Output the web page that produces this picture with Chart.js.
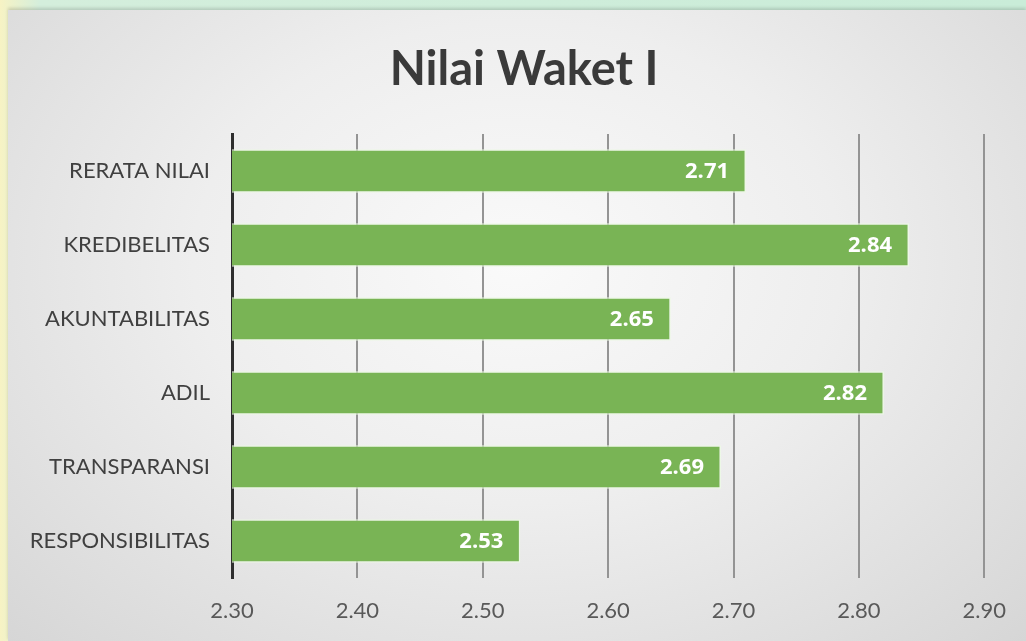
<!DOCTYPE html>
<html>
<head>
<meta charset="utf-8">
<script src="https://cdn.jsdelivr.net/npm/chart.js@4/dist/chart.umd.min.js"></script>
<style>
    html, body { margin: 0; padding: 0; }
    body {
        width: 1026px; height: 641px; overflow: hidden; position: relative;
        background: linear-gradient(90deg, #f7f3c4 0px, #d4eedc 40px, #c9ecd8 100%);
    }
    #panel {
        position: absolute; left: 8px; top: 10px; right: 0; bottom: 0;
        background: radial-gradient(ellipse at 50% 40%, #fafafa 0%, #eeeeee 45%, #d6d6d6 100%);
        box-shadow: 0 -2px 3px rgba(0,0,0,0.15);
    }
    #wrap { position: absolute; left: 0; top: 0; width: 1026px; height: 641px; }
</style>
</head>
<body>
<div id="panel"></div>
<div id="wrap"><canvas id="nilaiChart"></canvas></div>
<script>
const categories = ['RERATA NILAI', 'KREDIBELITAS', 'AKUNTABILITAS', 'ADIL', 'TRANSPARANSI', 'RESPONSIBILITAS'];
const scores = [2.71, 2.84, 2.65, 2.82, 2.69, 2.53];
const axisMin = 2.30;
const axisMax = 2.90;
const axisStep = 0.10;
const chartTitle = 'Nilai Waket I';

// heading centred over the panel, above the plot
const panelTitle = {
    id: 'panelTitle',
    afterDraw(chart) {
        const ctx = chart.ctx;
        ctx.save();
        ctx.font = 'bold 47px Lato, sans-serif';
        ctx.fillStyle = '#3a3a3a';
        ctx.textAlign = 'center';
        ctx.textBaseline = 'middle';
        ctx.fillText(chartTitle, 524, 70);
        ctx.restore();
    }
};

// white bold value written just inside the end of each bar
const barValueLabels = {
    id: 'barValueLabels',
    afterDatasetsDraw(chart) {
        const ctx = chart.ctx;
        const meta = chart.getDatasetMeta(0);
        ctx.save();
        ctx.font = 'bold 22px "Open Sans", sans-serif';
        ctx.fillStyle = '#ffffff';
        ctx.textAlign = 'right';
        ctx.textBaseline = 'middle';
        meta.data.forEach((bar, i) => {
            ctx.fillText(scores[i].toFixed(2), bar.x - 17, bar.y + 1);
        });
        ctx.restore();
    }
};

const ctx = document.getElementById('nilaiChart').getContext('2d');
new Chart(ctx, {
    type: 'bar',
    data: {
        labels: categories,
        datasets: [{
            data: scores,
            backgroundColor: '#79b455',
            borderColor: 'rgba(236, 248, 228, 0.9)',
            borderWidth: 1.5,
            borderSkipped: 'left',
            barPercentage: 0.82,
            categoryPercentage: 0.72
        }]
    },
    options: {
        indexAxis: 'y',
        responsive: true,
        maintainAspectRatio: false,
        animation: false,
        layout: { padding: { left: 0, right: 41, top: 134, bottom: 0 } },
        plugins: {
            legend: { display: false },
            tooltip: { enabled: false },
            title: { display: false }
        },
        scales: {
            x: {
                min: axisMin,
                max: axisMax,
                afterFit(scale) { scale.height = 641 - 578; },
                ticks: {
                    stepSize: axisStep,
                    color: '#595959',
                    font: { family: 'Lato, sans-serif', size: 22 },
                    padding: 20,
                    callback: v => v.toFixed(2)
                },
                grid: { color: '#949494', lineWidth: 2, drawTicks: false },
                border: { display: false }
            },
            y: {
                afterFit(scale) { scale.width = 232; },
                ticks: {
                    color: '#404040',
                    font: { family: 'Lato, sans-serif', size: 22 },
                    padding: 22
                },
                grid: { display: false, drawTicks: false },
                border: { display: true, color: '#2e2e2e', width: 3 }
            }
        }
    },
    plugins: [barValueLabels, panelTitle]
});
</script>
</body>
</html>
